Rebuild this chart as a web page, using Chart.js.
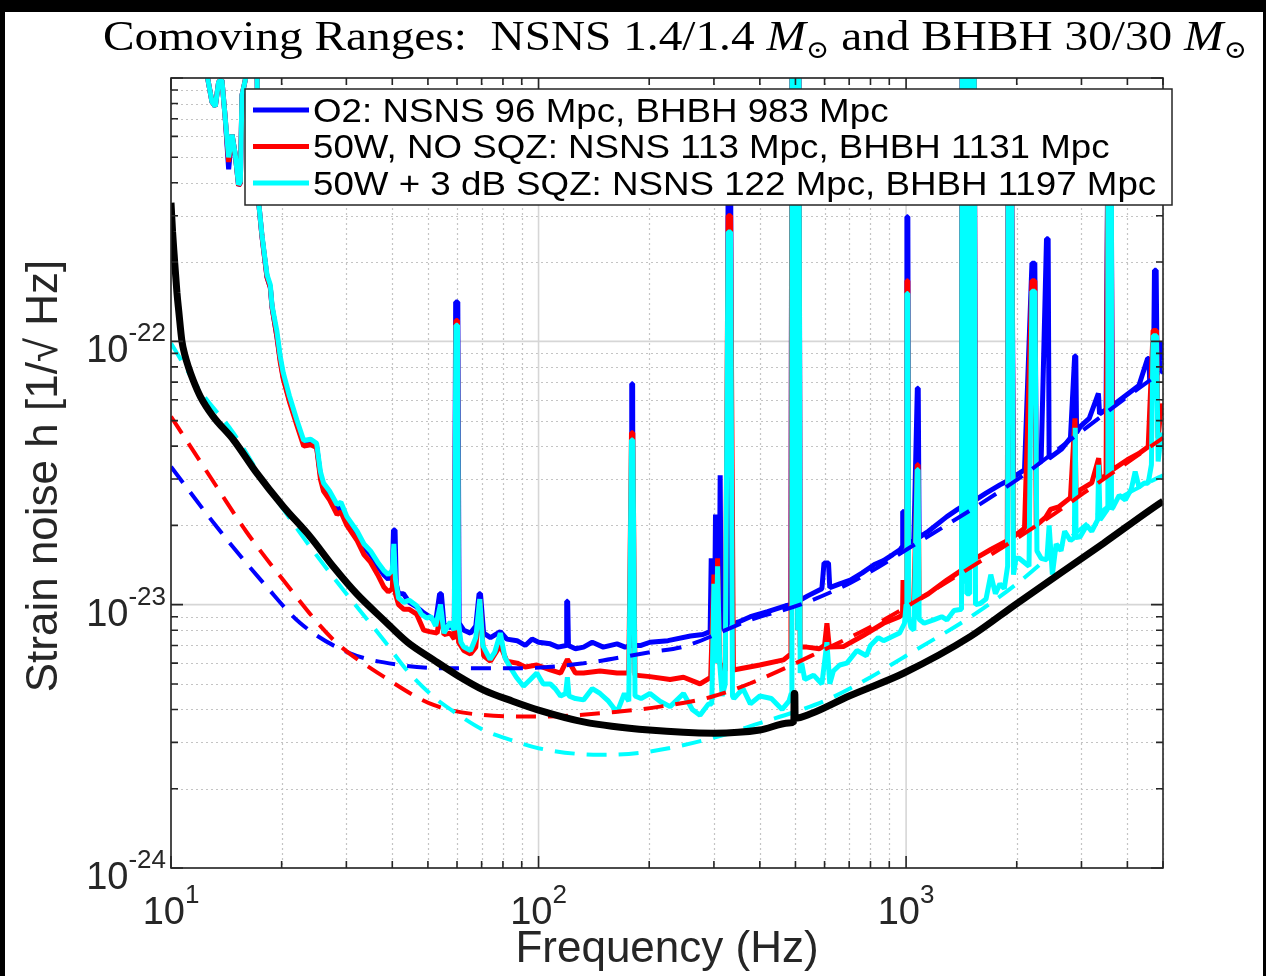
<!DOCTYPE html>
<html>
<head>
<meta charset="utf-8">
<title>Comoving Ranges</title>
<script src="https://cdn.jsdelivr.net/npm/chart.js@4.4.1/dist/chart.umd.min.js"></script>
<style>
  html, body { margin: 0; padding: 0; background: #000; }
  canvas { display: block; }
</style>
</head>
<body>
<canvas id="strainChart" width="1266" height="976"></canvas>
<script>
// axis ticks
const freqMajorTicks = [10, 100, 1000];
const freqMinorTicks = [20, 30, 40, 50, 60, 70, 80, 90, 200, 300, 400, 500, 600, 700, 800, 900, 2000, 3000, 4000, 5000];
const freqTickLabels = ['1', '2', '3'];
const strainMajorTicks = [1e-24, 1e-23, 1e-22, 1e-21];
const strainMinorTicks = [2e-24, 3e-24, 4e-24, 5e-24, 6e-24, 7e-24, 8e-24, 9e-24,
                          2e-23, 3e-23, 4e-23, 5e-23, 6e-23, 7e-23, 8e-23, 9e-23,
                          2e-22, 3e-22, 4e-22, 5e-22, 6e-22, 7e-22, 8e-22, 9e-22];
const strainTickLabels = ['-24', '-23', '-22'];

const legendLabels = [
    'O2: NSNS 96 Mpc, BHBH 983 Mpc',
    '50W, NO SQZ: NSNS 113 Mpc, BHBH 1131 Mpc',
    '50W + 3 dB SQZ: NSNS 122 Mpc, BHBH 1197 Mpc'
];

// measured spectra: [frequency Hz, strain 1/sqrt(Hz)]
const o2Measured = [
    [12.0, 1.2e-21], [12.53, 1.03e-21], [12.93, 8.1e-22], [13.2, 7.8e-22], [13.48, 9.7e-22], [13.76, 9.8e-22],
    [14.05, 7.0e-22], [14.35, 4.5e-22], [14.66, 6.1e-22], [14.96, 5.1e-22], [15.27, 3.9e-22], [15.44, 4.0e-22],
    [15.6, 8.6e-22], [15.92, 9.8e-22], [16.5, 1.3e-21], [17.14, 1.1e-21], [17.31, 3.4e-22], [17.68, 2.5e-22],
    [18.25, 1.75e-22], [18.63, 1.6e-22], [18.83, 1.35e-22], [19.4, 1.05e-22], [19.83, 8.5e-23], [20.2, 7.3e-23],
    [21.0, 6.0e-23], [22.0, 4.9e-23], [22.97, 4.1e-23], [24.0, 4.1e-23], [24.9, 4.0e-23], [25.5, 3.1e-23],
    [26.0, 2.8e-23], [27.0, 2.6e-23], [28.3, 2.3e-23], [29.0, 2.35e-23], [30.1, 2.1e-23], [32.1, 1.85e-23],
    [33.5, 1.65e-23], [34.9, 1.55e-23], [36.5, 1.4e-23], [37.9, 1.3e-23], [39.0, 1.25e-23], [40.0, 1.3e-23],
    [40.3, 1.92e-23], [40.7, 1.92e-23], [41.0, 1.2e-23], [41.6, 1.1e-23], [42.9, 1.1e-23], [44.5, 1.02e-23],
    [46.6, 9.8e-24], [48.7, 9.3e-24], [50.5, 9.0e-24], [52.5, 8.6e-24], [53.8, 1.1e-23], [54.4, 1.1e-23],
    [55.3, 8.4e-24], [57.5, 8.2e-24], [59.0, 8.2e-24], [59.5, 1.41e-22], [60.3, 1.41e-22], [60.8, 8.5e-24],
    [62.6, 8.0e-24], [65.3, 7.8e-24], [67.5, 8.3e-24], [68.9, 1.1e-23], [69.5, 1.1e-23], [70.9, 7.8e-24],
    [74.0, 7.5e-24], [78.7, 7.9e-24], [82.0, 7.4e-24], [87.4, 7.3e-24], [92.0, 7.0e-24], [96.0, 7.4e-24],
    [100, 7.2e-24], [107.6, 7.1e-24], [113, 6.9e-24], [118.8, 7.0e-24], [119.3, 1.03e-23], [120.0, 1.03e-23],
    [120.6, 7.0e-24], [126, 6.8e-24], [132.6, 6.9e-24], [140, 7.2e-24], [150, 6.9e-24], [163.5, 7.1e-24],
    [172, 6.9e-24], [178.8, 7.0e-24], [179.3, 6.9e-23], [180.3, 6.9e-23], [180.8, 7.0e-24], [190, 7.0e-24],
    [201, 7.2e-24], [225, 7.3e-24], [259, 7.6e-24], [280, 7.7e-24], [293, 7.9e-24], [295, 1.5e-23],
    [297, 8.0e-24], [301, 8.0e-24], [303, 2.2e-23], [305, 8.0e-24], [310, 8.2e-24], [312, 3.1e-23],
    [314, 8.2e-24], [326, 8.3e-24], [328, 6.0e-22], [333, 6.0e-22], [336, 8.4e-24], [350, 8.6e-24],
    [377, 9.0e-24], [420, 9.4e-24], [470, 9.9e-24], [486, 1.0e-23], [489, 1.3e-21], [492, 1.5e-23],
    [495, 1.3e-21], [499, 1.5e-23], [503, 1.3e-21], [507, 1.2e-23], [511, 1.3e-21], [515, 1.04e-23],
    [540, 1.08e-23], [590, 1.15e-23], [598, 1.44e-23], [615, 1.44e-23], [620, 1.16e-23], [660, 1.2e-23],
    [705, 1.24e-23], [760, 1.32e-23], [820, 1.42e-23], [868, 1.47e-23], [920, 1.55e-23], [964, 1.62e-23],
    [976, 1.66e-23], [979, 2.26e-23], [983, 2.26e-23], [986, 1.66e-23], [1000, 1.7e-23], [1005, 2.97e-22],
    [1011, 2.97e-22], [1016, 1.72e-23], [1050, 1.75e-23], [1073, 6.64e-23], [1079, 6.64e-23], [1085, 1.8e-23],
    [1150, 1.9e-23], [1291, 2.16e-23], [1380, 2.3e-23], [1415, 2.35e-23], [1420, 1.3e-21], [1432, 2.4e-23],
    [1440, 1.3e-21], [1452, 1.3e-21], [1462, 2.4e-23], [1474, 2.45e-23], [1476, 5.25e-23], [1478, 2.45e-23],
    [1490, 2.45e-23], [1496, 1.3e-21], [1510, 2.5e-23], [1520, 1.3e-21], [1532, 1.3e-21], [1545, 2.5e-23],
    [1650, 2.65e-23], [1800, 2.85e-23], [1885, 2.95e-23], [1889, 8.62e-23], [1893, 2.95e-23], [1895, 6.0e-22],
    [1935, 6.0e-22], [1959, 3.06e-23], [2100, 3.25e-23], [2200, 1.98e-22], [2240, 1.98e-22], [2260, 3.4e-23],
    [2330, 3.5e-23], [2410, 2.45e-22], [2435, 2.45e-22], [2450, 3.6e-23], [2650, 3.9e-23], [2800, 4.3e-23],
    [2875, 8.8e-23], [2895, 8.8e-23], [2910, 4.5e-23], [2976, 4.74e-23], [3150, 5.1e-23], [3336, 6.35e-23],
    [3348, 6.35e-23], [3360, 5.3e-23], [3500, 5.5e-23], [3540, 6.0e-22], [3610, 6.0e-22], [3640, 5.7e-23],
    [4000, 6.3e-23], [4300, 6.8e-23], [4540, 8.6e-23], [4575, 8.6e-23], [4600, 7.1e-23], [4710, 7.34e-23],
    [4740, 1.86e-22], [4790, 1.86e-22], [4820, 7.5e-23], [4900, 7.8e-23], [4950, 1.0e-22], [5000, 8.5e-23]
];

const noSqzMeasured = [
    [12.0, 1.2e-21], [12.53, 1.03e-21], [12.93, 8.1e-22], [13.2, 7.8e-22], [13.48, 9.7e-22], [13.76, 9.8e-22],
    [14.05, 7.0e-22], [14.35, 4.8e-22], [14.66, 6.1e-22], [14.96, 5.1e-22], [15.27, 3.9e-22], [15.44, 4.0e-22],
    [15.6, 8.6e-22], [15.92, 9.8e-22], [16.5, 1.3e-21], [17.14, 1.1e-21], [17.31, 3.4e-22], [17.68, 2.5e-22],
    [18.25, 1.75e-22], [18.63, 1.6e-22], [18.83, 1.35e-22], [19.4, 1.05e-22], [19.83, 8.3e-23], [20.2, 7.2e-23],
    [21.0, 5.9e-23], [22.0, 4.8e-23], [22.97, 4.0e-23], [24.0, 4.05e-23], [24.9, 3.95e-23], [25.5, 3.0e-23],
    [26.0, 2.7e-23], [27.0, 2.5e-23], [28.3, 2.2e-23], [29.0, 2.25e-23], [30.1, 2.0e-23], [32.1, 1.75e-23],
    [33.5, 1.55e-23], [34.9, 1.45e-23], [36.5, 1.3e-23], [37.9, 1.17e-23], [39.0, 1.12e-23], [40.0, 1.15e-23],
    [40.4, 1.6e-23], [40.8, 1.1e-23], [41.6, 1.0e-23], [43.0, 9.6e-24], [44.5, 9.6e-24], [46.6, 9.2e-24],
    [48.7, 8.0e-24], [50.5, 7.9e-24], [53.0, 7.8e-24], [54.1, 9.5e-24], [55.3, 7.7e-24], [57.5, 7.8e-24],
    [59.0, 7.4e-24], [59.6, 1.2e-22], [60.2, 1.2e-22], [60.6, 7.2e-24], [62.6, 6.7e-24], [65.3, 6.5e-24],
    [67.5, 6.9e-24], [69.2, 1.05e-23], [70.9, 6.4e-24], [74.0, 6.1e-24], [78.7, 7.0e-24], [82.0, 6.1e-24],
    [87.4, 6.0e-24], [92.0, 5.8e-24], [98.9, 5.9e-24], [107.6, 5.65e-24], [114.8, 5.5e-24], [119.8, 6.2e-24],
    [126, 5.5e-24], [132.6, 5.5e-24], [147, 5.6e-24], [163.5, 5.5e-24], [176, 5.5e-24], [179, 4.5e-23],
    [180.5, 4.5e-23], [183, 5.4e-24], [201, 5.33e-24], [228, 5.2e-24], [248, 5.3e-24], [275, 5.0e-24],
    [294, 5.3e-24], [300, 1.3e-23], [304, 6.0e-24], [307, 1.5e-23], [311, 6.0e-24], [322, 5.6e-24],
    [328, 3.0e-22], [333, 3.0e-22], [339, 5.65e-24], [400, 5.9e-24], [464, 6.17e-24], [486, 6.5e-24],
    [489, 1.3e-21], [492, 1.0e-23], [495, 1.3e-21], [499, 1.0e-23], [503, 1.3e-21], [507, 8.0e-24],
    [511, 1.3e-21], [515, 6.9e-24], [537, 6.9e-24], [580, 6.8e-24], [600, 7.0e-24], [609, 8.5e-24],
    [618, 6.9e-24], [675, 6.93e-24], [760, 7.6e-24], [868, 8.5e-24], [960, 9.0e-24], [978, 9.2e-24],
    [981, 1.24e-23], [984, 9.2e-24], [1000, 1.0e-23], [1005, 1.7e-22], [1011, 1.7e-22], [1016, 1.0e-23],
    [1050, 1.02e-23], [1072, 3.4e-23], [1078, 3.4e-23], [1085, 1.05e-23], [1150, 1.1e-23], [1291, 1.24e-23],
    [1415, 1.35e-23], [1420, 1.3e-21], [1432, 1.4e-23], [1440, 1.3e-21], [1452, 1.3e-21], [1462, 1.4e-23],
    [1490, 1.45e-23], [1496, 1.3e-21], [1510, 1.5e-23], [1520, 1.3e-21], [1532, 1.3e-21], [1545, 1.5e-23],
    [1700, 1.62e-23], [1885, 1.75e-23], [1895, 6.0e-22], [1935, 6.0e-22], [1959, 1.81e-23], [2100, 1.95e-23],
    [2200, 1.7e-22], [2240, 1.7e-22], [2260, 2.0e-23], [2400, 2.15e-23], [2470, 2.3e-23], [2600, 2.35e-23],
    [2800, 2.55e-23], [2880, 5.1e-23], [2900, 2.6e-23], [2976, 2.73e-23], [3200, 2.9e-23], [3342, 3.6e-23],
    [3370, 3.0e-23], [3500, 3.1e-23], [3540, 6.0e-22], [3610, 6.0e-22], [3640, 3.25e-23], [4000, 3.55e-23],
    [4300, 3.75e-23], [4557, 3.98e-23], [4700, 1.1e-22], [4800, 1.1e-22], [4850, 4.3e-23], [4950, 5.8e-23],
    [5000, 5.2e-23]
];

const sqzMeasured = [
    [12.0, 1.2e-21], [12.53, 1.03e-21], [12.93, 8.1e-22], [13.2, 7.8e-22], [13.48, 9.7e-22], [13.76, 9.8e-22],
    [14.05, 7.0e-22], [14.35, 5.0e-22], [14.66, 6.1e-22], [14.96, 5.1e-22], [15.27, 3.93e-22], [15.44, 4.04e-22],
    [15.6, 8.6e-22], [15.92, 9.8e-22], [16.5, 1.3e-21], [17.14, 1.1e-21], [17.31, 3.4e-22], [17.68, 2.54e-22],
    [18.25, 1.79e-22], [18.63, 1.64e-22], [18.83, 1.37e-22], [19.4, 1.1e-22], [19.83, 8.75e-23], [20.2, 7.6e-23],
    [21.0, 6.2e-23], [22.0, 5.03e-23], [22.97, 4.2e-23], [24.0, 4.25e-23], [24.9, 4.1e-23], [25.5, 3.2e-23],
    [26.0, 2.9e-23], [27.0, 2.7e-23], [28.3, 2.4e-23], [29.0, 2.45e-23], [30.1, 2.16e-23], [32.1, 1.9e-23],
    [33.5, 1.7e-23], [34.9, 1.6e-23], [36.5, 1.45e-23], [37.9, 1.35e-23], [39.0, 1.3e-23], [40.0, 1.35e-23],
    [40.4, 1.7e-23], [40.8, 1.25e-23], [41.6, 1.06e-23], [43.0, 1.02e-23], [44.5, 1.04e-23], [46.6, 9.9e-24],
    [48.0, 9.2e-24], [49.6, 8.9e-24], [51.0, 9.0e-24], [52.5, 8.3e-24], [54.1, 1.0e-23], [55.3, 7.8e-24],
    [57.5, 8.6e-24], [59.0, 8.0e-24], [59.6, 1.15e-22], [60.2, 1.15e-22], [60.6, 8.5e-24], [61.5, 7.2e-24],
    [62.6, 6.9e-24], [65.3, 6.7e-24], [67.5, 7.5e-24], [69.2, 1.05e-23], [70.5, 7.0e-24], [73.8, 6.2e-24],
    [76.0, 6.6e-24], [78.7, 7.8e-24], [81.0, 6.3e-24], [83.6, 5.8e-24], [87.0, 5.3e-24], [91.0, 4.9e-24],
    [95.0, 5.2e-24], [98.9, 5.5e-24], [103, 5.0e-24], [107.6, 5.0e-24], [111, 4.8e-24], [114.8, 4.5e-24],
    [118.5, 4.6e-24], [119.8, 5.3e-24], [121, 4.5e-24], [126, 4.4e-24], [132.6, 4.35e-24], [140, 4.8e-24],
    [147, 4.6e-24], [155, 4.3e-24], [163.5, 3.9e-24], [171.2, 4.6e-24], [176, 4.3e-24], [179, 4.22e-23],
    [180.5, 4.22e-23], [183, 4.5e-24], [190, 4.4e-24], [201, 4.6e-24], [214, 4.3e-24], [228, 4.1e-24],
    [248, 4.6e-24], [262, 4.0e-24], [275, 3.8e-24], [290, 4.2e-24], [296, 4.2e-24], [300, 1.2e-23],
    [304, 6.0e-24], [307, 1.4e-23], [311, 6.0e-24], [316, 4.5e-24], [322, 5.0e-24], [328, 2.6e-22],
    [333, 2.6e-22], [337, 4.5e-24], [340, 4.4e-24], [360, 4.8e-24], [377, 4.2e-24], [400, 4.5e-24],
    [430, 4.4e-24], [460, 4.0e-24], [480, 4.3e-24], [487, 4.6e-24], [489, 1.3e-21], [492, 1.0e-23],
    [495, 1.3e-21], [499, 1.0e-23], [503, 1.3e-21], [507, 8.0e-24], [511, 1.3e-21], [515, 5.5e-24],
    [520, 6.0e-24], [530, 5.2e-24], [560, 5.4e-24], [590, 5.0e-24], [609, 7.2e-24], [620, 5.0e-24],
    [634, 5.6e-24], [660, 5.9e-24], [690, 6.0e-24], [735, 6.7e-24], [780, 6.4e-24], [800, 7.0e-24],
    [840, 7.5e-24], [868, 7.3e-24], [960, 7.8e-24], [990, 8.5e-24], [1000, 1.0e-23], [1005, 1.52e-22],
    [1011, 1.52e-22], [1016, 9.0e-24], [1030, 8.2e-24], [1050, 8.0e-24], [1072, 3.25e-23], [1078, 3.25e-23],
    [1085, 8.8e-24], [1120, 8.5e-24], [1188, 8.75e-24], [1250, 9.0e-24], [1291, 8.75e-24], [1350, 9.5e-24],
    [1415, 9.6e-24], [1420, 1.3e-21], [1432, 1.2e-23], [1440, 1.3e-21], [1452, 1.3e-21], [1462, 1.1e-23],
    [1490, 1.1e-23], [1496, 1.3e-21], [1510, 1.4e-23], [1520, 1.3e-21], [1532, 1.3e-21], [1545, 1.0e-23],
    [1591, 1.01e-23], [1650, 1.05e-23], [1700, 1.3e-23], [1750, 1.1e-23], [1800, 1.2e-23], [1850, 1.15e-23],
    [1889, 1.4e-23], [1895, 6.0e-22], [1935, 6.0e-22], [1960, 1.3e-23], [1990, 1.5e-23], [2030, 1.5e-23],
    [2160, 1.4e-23], [2200, 1.55e-22], [2240, 1.55e-22], [2270, 1.6e-23], [2330, 1.5e-23], [2415, 1.48e-23],
    [2450, 2.0e-23], [2500, 1.3e-23], [2560, 1.7e-23], [2640, 1.6e-23], [2700, 1.9e-23], [2800, 1.75e-23],
    [2870, 1.8e-23], [2885, 4.7e-23], [2900, 1.8e-23], [2976, 1.81e-23], [3100, 2.0e-23], [3200, 1.9e-23],
    [3320, 2.1e-23], [3342, 3.4e-23], [3370, 2.1e-23], [3450, 2.2e-23], [3530, 2.3e-23], [3540, 6.0e-22],
    [3610, 6.0e-22], [3620, 2.3e-23], [3666, 2.36e-23], [3800, 2.6e-23], [3950, 2.5e-23], [4100, 2.75e-23],
    [4200, 3.2e-23], [4300, 2.8e-23], [4450, 2.9e-23], [4557, 2.89e-23], [4650, 3.4e-23], [4700, 1.05e-22],
    [4800, 1.05e-22], [4850, 3.5e-23], [4950, 4.5e-23], [5000, 3.9e-23]
];

// model curves
const o2Model = [
    [10, 3.34e-23], [13.3, 1.98e-23], [18.2, 1.17e-23], [22.5, 8.5e-24], [30.7, 6.54e-24], [42.1, 5.9e-24],
    [57.5, 5.73e-24], [87.4, 5.73e-24], [132.6, 5.99e-24], [201, 6.6e-24], [248, 6.93e-24], [377, 8.75e-24],
    [515, 1.0e-23], [705, 1.21e-23], [1069, 1.71e-23], [2001, 2.98e-23], [3038, 4.61e-23], [4613, 7.13e-23],
    [5000, 7.7e-23]
];
const noSqzModel = [
    [10, 5.18e-23], [13.3, 2.81e-23], [16, 1.9e-23], [20.2, 1.24e-23], [27.7, 7.34e-24], [37.9, 5.33e-24],
    [51.8, 4.16e-24], [70.9, 3.81e-24], [100, 3.76e-24], [163.5, 3.92e-24], [214, 4.1e-24], [296, 4.47e-24],
    [377, 5.03e-24], [571, 6.54e-24], [868, 8.75e-24], [1318, 1.24e-23], [1841, 1.66e-23], [2466, 2.16e-23],
    [3038, 2.65e-23], [4613, 3.98e-23], [5000, 4.3e-23]
];
const sqzModel = [
    [10, 9.84e-23], [12, 6.5e-23], [14.8, 4.48e-23], [18, 2.9e-23], [20, 2.35e-23], [23.9, 1.66e-23],
    [30, 1.1e-23], [37.9, 7.34e-24], [44, 5.6e-24], [51.8, 4.47e-24], [60, 3.85e-24], [70.9, 3.34e-24],
    [85, 3.05e-24], [100, 2.85e-24], [147, 2.69e-24], [201, 2.77e-24], [306, 3.15e-24], [400, 3.55e-24],
    [515, 3.98e-24], [609, 4.35e-24], [800, 5.3e-24], [1000, 6.4e-24], [1500, 9.0e-24], [2000, 1.2e-23],
    [3000, 1.95e-23], [3746, 2.5e-23], [4613, 2.93e-23], [5000, 3.1e-23]
];
const designCurve = [
    [10, 3.36e-22], [10.1, 2.6e-22], [10.2, 2.13e-22], [10.38, 1.53e-22], [10.5, 1.3e-22], [10.71, 1.0e-22],
    [10.9, 8.9e-23], [11.15, 8.0e-23], [11.5, 7.1e-23], [12.02, 6.17e-23], [13, 5.2e-23], [14.8, 4.22e-23],
    [17, 3.2e-23], [20.2, 2.36e-23], [24, 1.8e-23], [27.7, 1.39e-23], [32, 1.1e-23], [37.9, 8.75e-24],
    [44, 7.2e-24], [51.8, 6.17e-24], [60, 5.4e-24], [70.9, 4.74e-24], [85, 4.3e-24], [100, 3.98e-24],
    [132.6, 3.59e-24], [200, 3.34e-24], [300, 3.25e-24], [400, 3.34e-24], [480, 3.55e-24], [495, 3.6e-24],
    [496, 4.6e-24], [498, 4.6e-24], [499, 3.7e-24], [550, 3.85e-24], [700, 4.5e-24], [984, 5.49e-24],
    [1494, 7.56e-24], [2001, 1.01e-23], [3444, 1.71e-23], [4909, 2.43e-23], [5000, 2.47e-23]
];

const SANS = '"Liberation Sans", Arial, Helvetica, sans-serif';
const SERIF = '"Liberation Serif", "DejaVu Serif", serif';

function toPoints(pairs) {
    return pairs.map(p => ({ x: p[0], y: p[1] }));
}

function lineSet(label, pairs, color, width, dash, order, smooth) {
    return {
        label: label,
        data: toPoints(pairs),
        showLine: true,
        borderColor: color,
        backgroundColor: color,
        borderWidth: width,
        borderDash: dash,
        borderJoinStyle: 'bevel',
        cubicInterpolationMode: smooth ? 'monotone' : 'default',
        pointRadius: 0,
        tension: 0,
        clip: 0,
        order: order
    };
}

// "10" with a raised exponent
function drawPower(ctx, exponent, x, baseY, align) {
    ctx.font = '38px ' + SANS;
    const baseW = ctx.measureText('10').width;
    ctx.font = '26px ' + SANS;
    const expW = ctx.measureText(exponent).width;
    const left = align === 'right' ? x - baseW - expW : x - (baseW + expW) / 2;
    ctx.fillStyle = '#262626';
    ctx.textAlign = 'left';
    ctx.textBaseline = 'alphabetic';
    ctx.font = '38px ' + SANS;
    ctx.fillText('10', left, baseY);
    ctx.font = '26px ' + SANS;
    ctx.fillText(exponent, left + baseW, baseY - 21);
}

function drawTitle(ctx) {
    const parts = [
        { text: 'Comoving Ranges:  NSNS 1.4/1.4 ', font: '42px ' + SERIF, dy: 0 },
        { text: 'M', font: 'italic 42px ' + SERIF, dy: 0 },
        { text: '\u2299', font: '25px ' + SERIF, dy: 8 },
        { text: ' and BHBH 30/30 ', font: '42px ' + SERIF, dy: 0 },
        { text: 'M', font: 'italic 42px ' + SERIF, dy: 0 },
        { text: '\u2299', font: '25px ' + SERIF, dy: 8 }
    ];
    let total = 0;
    parts.forEach(p => { ctx.font = p.font; p.w = ctx.measureText(p.text).width; total += p.w; });
    const startX = 103, endX = 1247, baseY = 50;
    const sx = (endX - startX) / total;
    ctx.save();
    ctx.translate(startX, baseY);
    ctx.scale(sx, 1);
    ctx.fillStyle = '#000';
    ctx.textAlign = 'left';
    ctx.textBaseline = 'alphabetic';
    let cx = 0;
    parts.forEach(p => { ctx.font = p.font; ctx.fillText(p.text, cx, p.dy); cx += p.w; });
    ctx.restore();
}

const matlabAxes = {
    id: 'matlabAxes',
    beforeDraw(chart) {
        const ctx = chart.ctx;
        ctx.save();
        ctx.fillStyle = '#000';
        ctx.fillRect(0, 0, chart.width, chart.height);
        ctx.fillStyle = '#fff';
        ctx.fillRect(5, 12, chart.width - 8, chart.height - 12);
        ctx.restore();
    },
    beforeDatasetsDraw(chart) {
        const { ctx, chartArea: a, scales: { x, y } } = chart;
        ctx.save();
        // minor grid (dotted)
        ctx.strokeStyle = '#c4c4c4';
        ctx.lineWidth = 1.2;
        ctx.setLineDash([2, 3]);
        freqMinorTicks.forEach(f => {
            const px = Math.round(x.getPixelForValue(f)) + 0.5;
            ctx.beginPath(); ctx.moveTo(px, a.top); ctx.lineTo(px, a.bottom); ctx.stroke();
        });
        strainMinorTicks.forEach(h => {
            const py = Math.round(y.getPixelForValue(h)) + 0.5;
            ctx.beginPath(); ctx.moveTo(a.left, py); ctx.lineTo(a.right, py); ctx.stroke();
        });
        // major grid (solid)
        ctx.setLineDash([]);
        ctx.strokeStyle = '#d6d6d6';
        ctx.lineWidth = 1.6;
        freqMajorTicks.forEach(f => {
            const px = x.getPixelForValue(f);
            ctx.beginPath(); ctx.moveTo(px, a.top); ctx.lineTo(px, a.bottom); ctx.stroke();
        });
        strainMajorTicks.forEach(h => {
            const py = y.getPixelForValue(h);
            ctx.beginPath(); ctx.moveTo(a.left, py); ctx.lineTo(a.right, py); ctx.stroke();
        });
        ctx.restore();
    },
    afterDatasetsDraw(chart) {
        const { ctx, chartArea: a, scales: { x, y } } = chart;
        ctx.save();
        // box and inward ticks
        ctx.strokeStyle = '#262626';
        ctx.lineWidth = 1.6;
        ctx.strokeRect(a.left, a.top, a.right - a.left, a.bottom - a.top);
        const xTick = (f, len) => {
            const px = x.getPixelForValue(f);
            ctx.beginPath();
            ctx.moveTo(px, a.bottom); ctx.lineTo(px, a.bottom - len);
            ctx.moveTo(px, a.top); ctx.lineTo(px, a.top + len);
            ctx.stroke();
        };
        const yTick = (h, len) => {
            const py = y.getPixelForValue(h);
            ctx.beginPath();
            ctx.moveTo(a.left, py); ctx.lineTo(a.left + len, py);
            ctx.moveTo(a.right, py); ctx.lineTo(a.right - len, py);
            ctx.stroke();
        };
        freqMajorTicks.forEach(f => xTick(f, 12));
        freqMinorTicks.forEach(f => xTick(f, 7));
        strainMajorTicks.forEach(h => yTick(h, 12));
        strainMinorTicks.forEach(h => yTick(h, 7));

        // legend box inside the axes
        const box = { left: 245, top: 89, right: 1172, bottom: 205 };
        ctx.fillStyle = '#fff';
        ctx.fillRect(box.left, box.top, box.right - box.left, box.bottom - box.top);
        ctx.strokeStyle = '#262626';
        ctx.lineWidth = 1.5;
        ctx.strokeRect(box.left, box.top, box.right - box.left, box.bottom - box.top);
        const rowY = [110, 146.5, 183];
        legendLabels.forEach((label, i) => {
            const d = chart.data.datasets.find(s => s.label === label);
            ctx.strokeStyle = d.borderColor;
            ctx.lineWidth = 5;
            ctx.beginPath();
            ctx.moveTo(253, rowY[i]);
            ctx.lineTo(309, rowY[i]);
            ctx.stroke();
            ctx.save();
            ctx.translate(313, rowY[i] + 11.5);
            ctx.scale(1.08, 1);
            ctx.fillStyle = '#000';
            ctx.font = '34px ' + SANS;
            ctx.textAlign = 'left';
            ctx.textBaseline = 'alphabetic';
            ctx.fillText(label, 0, 0);
            ctx.restore();
        });
        ctx.restore();
    },
    afterDraw(chart) {
        const { ctx, scales: { x, y } } = chart;
        ctx.save();
        freqMajorTicks.forEach((f, i) => drawPower(ctx, freqTickLabels[i], x.getPixelForValue(f), 924, 'center'));
        strainMajorTicks.slice(0, 3).forEach((h, i) => drawPower(ctx, strainTickLabels[i], 166, y.getPixelForValue(h) + 21, 'right'));

        // axis titles
        ctx.fillStyle = '#262626';
        ctx.textAlign = 'center';
        ctx.textBaseline = 'alphabetic';
        ctx.font = '44px ' + SANS;
        ctx.fillText('Frequency (Hz)', (chart.chartArea.left + chart.chartArea.right) / 2, 962);
        ctx.save();
        ctx.translate(57, (chart.chartArea.top + chart.chartArea.bottom) / 2 + 3);
        ctx.rotate(-Math.PI / 2);
        ctx.font = '44px ' + SANS;
        ctx.fillText('Strain noise h [1/\u221A Hz]', 0, 0);
        ctx.restore();

        drawTitle(ctx);
        ctx.restore();
    }
};

const datasets = [
    lineSet('Design', designCurve, '#000000', 7, [], 0, true),
    lineSet('50W + 3 dB SQZ model', sqzModel, '#00ffff', 4, [20, 12], 1, true),
    lineSet('50W, NO SQZ model', noSqzModel, '#ff0000', 4, [20, 12], 2, true),
    lineSet('O2 model', o2Model, '#0000ff', 4, [20, 12], 3, true),
    lineSet(legendLabels[2], sqzMeasured, '#00ffff', 5, [], 4, false),
    lineSet(legendLabels[1], noSqzMeasured, '#ff0000', 5, [], 5, false),
    lineSet(legendLabels[0], o2Measured, '#0000ff', 5, [], 6, false)
];

const strainChart = new Chart(document.getElementById('strainChart'), {
    type: 'scatter',
    data: { datasets: datasets },
    options: {
        responsive: false,
        animation: false,
        devicePixelRatio: 1,
        layout: { padding: { left: 0, top: 78, right: 103, bottom: 0 } },
        plugins: {
            legend: { display: false },
            title: { display: false },
            tooltip: { enabled: false }
        },
        scales: {
            x: {
                type: 'logarithmic',
                min: 10,
                max: 5000,
                grid: { display: false },
                border: { display: false },
                ticks: { display: false },
                afterFit: scale => { scale.height = 108; }
            },
            y: {
                type: 'logarithmic',
                min: 1e-24,
                max: 1e-21,
                grid: { display: false },
                border: { display: false },
                ticks: { display: false },
                afterFit: scale => { scale.width = 171; }
            }
        }
    },
    plugins: [matlabAxes]
});
</script>
</body>
</html>
